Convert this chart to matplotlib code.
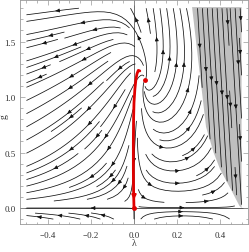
import numpy as np
import matplotlib
matplotlib.use("Agg")
import matplotlib.pyplot as plt

# ---------------- data ----------------
# fixed points (Gaussian and non-Gaussian)
fp_lambda = [0.0, 0.05]
fp_g = [0.0, 1.15]

# red separatrix trajectory
sep_lambda = [0.0, -0.002, -0.003, -0.003, -0.002, 0.0, 0.004, 0.009, 0.014, 0.020, 0.027]
sep_g = [0.0, 0.15, 0.35, 0.60, 0.80, 0.95, 1.07, 1.16, 1.21, 1.24, 1.235]

# boundary of the grey (excluded) region
edge_lambda = [0.27, 0.298, 0.32, 0.335, 0.37, 0.40, 0.45, 0.49, 0.50]
edge_g = [1.81, 1.34, 0.98, 0.73, 0.50, 0.35, 0.17, 0.02, 0.0]

# flow coefficients (IR direction)
c_lam = 2.0
c_gg = 0.0693
c_llg = -2.18
d_0 = 1.613
d_g = 1.2
d_l = 4.2

# plot ranges / ticks
lam_range = (-0.5, 0.5)
g_range = (-0.1, 1.8)
xticks = [-0.4, -0.2, 0.0, 0.2, 0.4]
yticks = [0.0, 0.5, 1.0, 1.5]

# ---------------- figure ----------------
plt.rcParams["font.family"] = ["Liberation Serif", "DejaVu Serif"]
fig = plt.figure(figsize=(2.49, 2.53), dpi=100)
ax = fig.add_axes([20 / 249, 28 / 253, 228 / 249, 224 / 253])

L = np.linspace(lam_range[0], lam_range[1], 240)
G = np.linspace(g_range[0], g_range[1], 240)
LL, GG = np.meshgrid(L, G)
den = np.clip(1 - 2 * LL, 0.03, None)
U = c_lam * LL - c_gg * GG ** 2 + c_llg * LL ** 2 * GG ** 3
V = GG * (-d_0 + d_g * GG + d_l * LL / den)

edge_at = np.interp(GG, edge_g[::-1], edge_lambda[::-1])
inside = (LL > edge_at) & (GG >= edge_g[-2]) & (GG <= edge_g[0])

Um = np.ma.array(U, mask=inside)
Vm = np.ma.array(V, mask=inside)

# grey region
poly_l = list(edge_lambda) + [0.5, 0.5]
poly_g = list(edge_g) + [0.0, edge_g[0]]
ax.fill(poly_l, poly_g, color="#bfbfbf", lw=0, zorder=0)

kw = dict(color="#111111", linewidth=0.55, arrowsize=0.55, zorder=2)
try:
    ax.streamplot(L, G, Um, Vm, density=1.1, num_arrows=2, **kw)
except TypeError:
    ax.streamplot(L, G, Um, Vm, density=1.1, **kw)

Ug = np.ma.array(np.full_like(U, 0.03), mask=~inside)
Vg = np.ma.array(np.full_like(V, -1.0), mask=~inside)
try:
    ax.streamplot(L, G, Ug, Vg, density=1.5, num_arrows=4, **kw)
except TypeError:
    ax.streamplot(L, G, Ug, Vg, density=1.5, **kw)

ax.axhline(0, color="#555555", lw=0.7, zorder=1)
ax.axvline(0, color="#333333", lw=0.5, zorder=1)

ax.plot(sep_lambda, sep_g, color="#e00000", lw=2.0, zorder=4, solid_capstyle="round")
ax.annotate("", xy=(0.0, 0.05), xytext=(0.0, 0.12),
            arrowprops=dict(arrowstyle="-|>", color="#e00000", lw=1.5, mutation_scale=6), zorder=5)
ax.plot(fp_lambda, fp_g, "o", color="#e00000", ms=3.5, mec="none", zorder=5)

ax.set_xlim(-0.53, 0.53)
ax.set_ylim(-0.144, 1.874)
ax.set_xticks(xticks)
ax.set_yticks(yticks)
ax.set_xticklabels([f"{t:.1f}".replace("-", "\u2212") for t in xticks])
ax.set_yticklabels([f"{t:.1f}" for t in yticks])
ax.xaxis.set_minor_locator(matplotlib.ticker.MultipleLocator(0.05))
ax.yaxis.set_minor_locator(matplotlib.ticker.MultipleLocator(0.1))
ax.tick_params(which="both", direction="in", top=True, right=True, colors="#999999",
               labelcolor="#333333", labelsize=6.5, width=0.5)
ax.tick_params(axis="x", which="major", pad=5)
ax.tick_params(axis="y", which="major", pad=3)
ax.tick_params(which="major", length=3.5)
ax.tick_params(which="minor", length=1.8)
for s in ax.spines.values():
    s.set_color("#999999")
    s.set_linewidth(0.6)

fig.text(134 / 249, 1 - 244 / 253, "\u03bb", ha="center", va="center", fontsize=7, color="#333333")
fig.text(4 / 249, 1 - 117 / 253, "g", ha="center", va="center", fontsize=7, color="#333333",
         rotation=90)

fig.savefig("out.png", dpi=100)
